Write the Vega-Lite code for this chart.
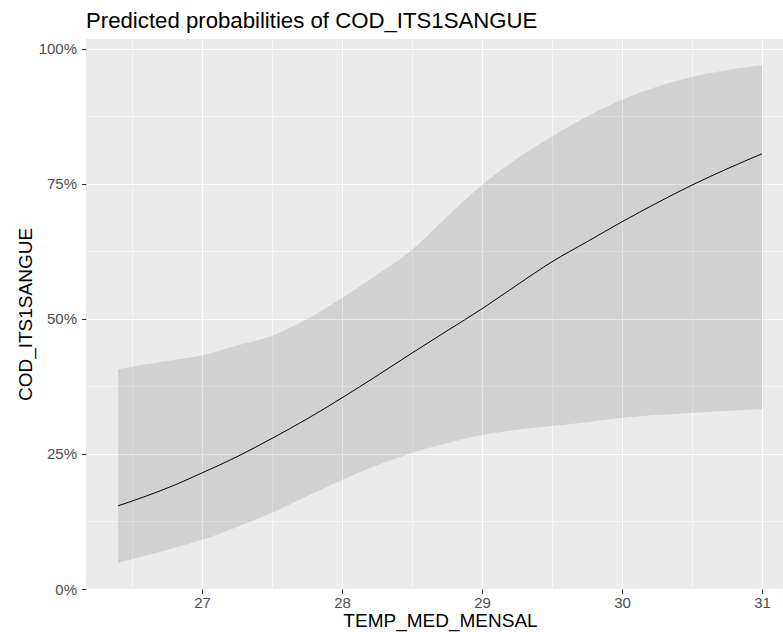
{
  "$schema": "https://vega.github.io/schema/vega-lite/v6.json",
  "width": 697,
  "height": 550,
  "autosize": {"type": "none"},
  "padding": {"left": 86, "top": 39, "right": 0, "bottom": 43},
  "background": "white",
  "title": {
    "text": "Predicted probabilities of COD_ITS1SANGUE",
    "anchor": "start",
    "frame": "group",
    "font": "Liberation Sans",
    "fontSize": 22.2,
    "fontWeight": "normal",
    "color": "black",
    "offset": 7
  },
  "config": {
    "view": {"fill": "#EBEBEB", "stroke": null},
    "axis": {
      "labelFont": "Liberation Sans",
      "titleFont": "Liberation Sans",
      "labelColor": "#4D4D4D",
      "labelFontSize": 15,
      "titleFontSize": 19,
      "titleFontWeight": "normal",
      "titleColor": "black",
      "domain": false,
      "tickColor": "#333333",
      "tickSize": 4.5,
      "tickWidth": 1,
      "gridColor": "white"
    }
  },
  "data": {
    "values": [
      {"x": 26.4, "pred": 0.154, "lower": 0.048, "upper": 0.407},
      {"x": 26.6, "pred": 0.172, "lower": 0.062, "upper": 0.416},
      {"x": 26.8, "pred": 0.192, "lower": 0.076, "upper": 0.424},
      {"x": 27.0, "pred": 0.215, "lower": 0.091, "upper": 0.433},
      {"x": 27.25, "pred": 0.245, "lower": 0.115, "upper": 0.451},
      {"x": 27.5, "pred": 0.279, "lower": 0.141, "upper": 0.469},
      {"x": 27.75, "pred": 0.315, "lower": 0.172, "upper": 0.5},
      {"x": 28.0, "pred": 0.354, "lower": 0.202, "upper": 0.539},
      {"x": 28.25, "pred": 0.395, "lower": 0.229, "upper": 0.582},
      {"x": 28.5, "pred": 0.437, "lower": 0.252, "upper": 0.628},
      {"x": 28.75, "pred": 0.478, "lower": 0.27, "upper": 0.69},
      {"x": 29.0, "pred": 0.519, "lower": 0.285, "upper": 0.748},
      {"x": 29.25, "pred": 0.563, "lower": 0.295, "upper": 0.797},
      {"x": 29.5, "pred": 0.606, "lower": 0.302, "upper": 0.838},
      {"x": 29.75, "pred": 0.643, "lower": 0.309, "upper": 0.875},
      {"x": 30.0, "pred": 0.68, "lower": 0.317, "upper": 0.906},
      {"x": 30.25, "pred": 0.715, "lower": 0.322, "upper": 0.93},
      {"x": 30.5, "pred": 0.748, "lower": 0.326, "upper": 0.948},
      {"x": 30.75, "pred": 0.778, "lower": 0.33, "upper": 0.961},
      {"x": 31.0, "pred": 0.806, "lower": 0.333, "upper": 0.97}
    ]
  },
  "layer": [
    {
      "mark": {"type": "area", "fill": "black", "opacity": 0.11, "interpolate": "monotone"},
      "encoding": {
        "x": {
          "field": "x", "type": "quantitative",
          "scale": {"domain": [26.171, 31.15], "nice": false, "zero": false},
          "axis": {"orient": "bottom", "values": [26.5, 27.5, 28.5, 29.5, 30.5], "labels": false, "ticks": false, "title": null, "grid": true, "gridWidth": 0.55}
        },
        "y": {
          "field": "lower", "type": "quantitative",
          "scale": {"domain": [0, 1.0185], "nice": false, "zero": false},
          "axis": {"orient": "left", "values": [0.125, 0.375, 0.625, 0.875], "labels": false, "ticks": false, "title": null, "grid": true, "gridWidth": 0.55}
        },
        "y2": {"field": "upper"}
      }
    },
    {
      "mark": {"type": "line", "color": "black", "strokeWidth": 1, "interpolate": "monotone"},
      "encoding": {
        "x": {
          "field": "x", "type": "quantitative",
          "axis": {"orient": "bottom", "values": [27, 28, 29, 30, 31], "title": "TEMP_MED_MENSAL", "titleX": 354, "grid": true, "gridWidth": 1.1, "labelPadding": 2, "titlePadding": 1, "format": "d"}
        },
        "y": {
          "field": "pred", "type": "quantitative",
          "axis": {"orient": "left", "values": [0, 0.25, 0.5, 0.75, 1], "format": ".0%", "title": "COD_ITS1SANGUE", "grid": true, "gridWidth": 1.1, "labelPadding": 5, "titlePadding": 3}
        }
      }
    }
  ],
  "resolve": {"axis": {"x": "independent", "y": "independent"}}
}
